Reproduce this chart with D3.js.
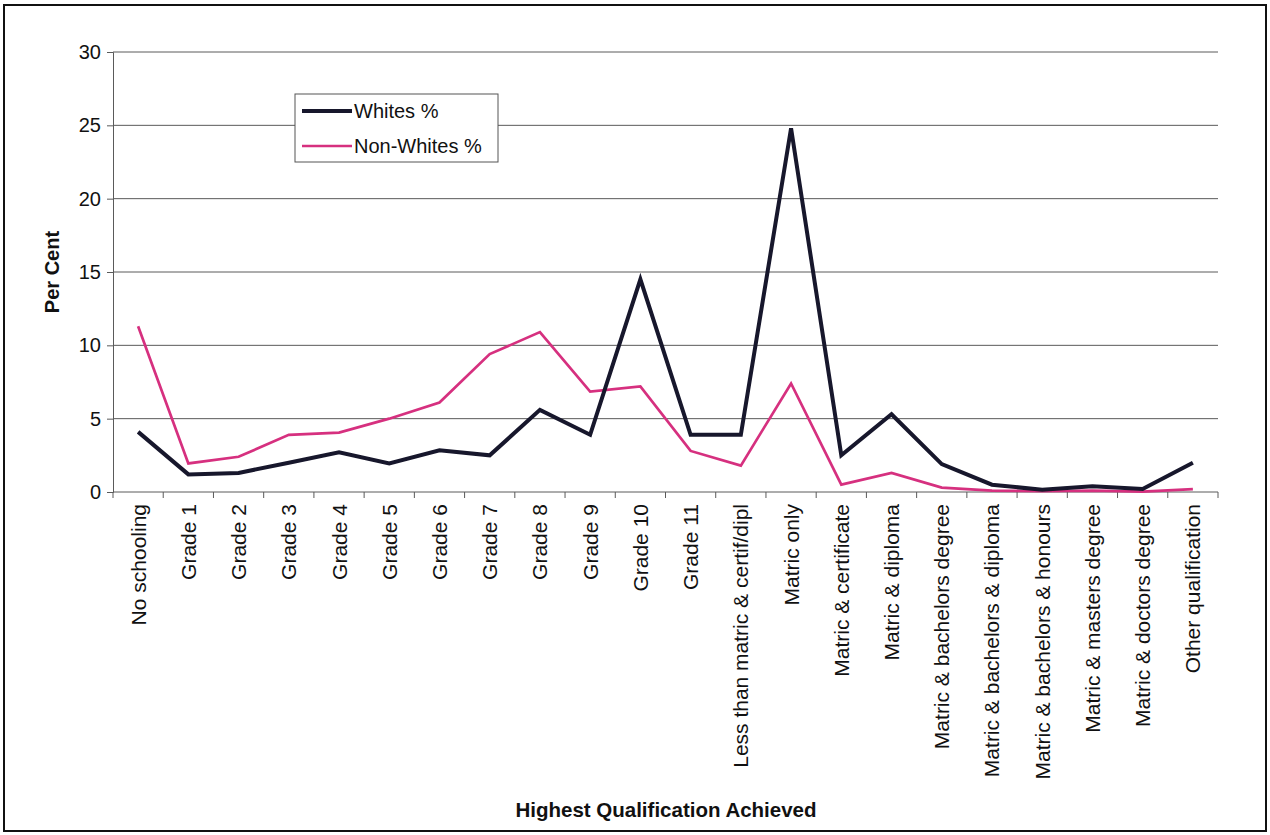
<!DOCTYPE html>
<html><head><meta charset="utf-8">
<script src="https://cdn.jsdelivr.net/npm/d3@7"></script>
<style>
html,body{margin:0;padding:0;background:#fff;}
svg{display:block;font-family:"Liberation Sans",Arial,sans-serif;}
</style></head>
<body><svg id="chart" width="1270" height="835"></svg>
<script>
const categories = ["No schooling","Grade 1","Grade 2","Grade 3","Grade 4","Grade 5","Grade 6","Grade 7","Grade 8","Grade 9","Grade 10","Grade 11","Less than matric & certif/dipl","Matric only","Matric & certificate","Matric & diploma","Matric & bachelors degree","Matric & bachelors & diploma","Matric & bachelors & honours","Matric & masters degree","Matric & doctors degree","Other qualification"];
const whites = [4.1,1.2,1.3,2.0,2.7,1.95,2.85,2.5,5.6,3.9,14.5,3.9,3.9,24.8,2.5,5.3,1.9,0.5,0.15,0.4,0.2,2.0];
const nonWhites = [11.3,1.95,2.4,3.9,4.05,5.0,6.1,9.4,10.9,6.85,7.2,2.8,1.8,7.4,0.5,1.3,0.3,0.1,0.05,0.1,0.03,0.2];
const yTicks = [0,5,10,15,20,25,30];
const seriesNames = ["Whites %","Non-Whites %"];
const seriesColors = ["#17172c","#d6307f"];

(function(){
const svg = d3.select("#chart");
svg.append("rect").attr("x",4).attr("y",5).attr("width",1262).attr("height",826)
  .attr("fill","#fff").attr("stroke","#111").attr("stroke-width",2);

const pL=113, pR=1218, pT=52, pB=492;
const x = d3.scaleBand().domain(categories).range([pL,pR]);
const y = d3.scaleLinear().domain([0,30]).range([pB,pT]);

svg.append("g").selectAll("line").data(yTicks.filter(d=>d>0)).join("line")
  .attr("x1",pL).attr("x2",pR).attr("y1",d=>y(d)).attr("y2",d=>y(d))
  .attr("stroke","#5a5a5a").attr("stroke-width",1);

const yAxis = svg.append("g").attr("transform",`translate(${pL},0)`)
  .call(d3.axisLeft(y).tickValues(yTicks).tickSize(6).tickPadding(6));
yAxis.select(".domain").attr("stroke","#5a5a5a");
yAxis.selectAll(".tick line").attr("stroke","#5a5a5a");
yAxis.selectAll("text").attr("font-size",20).attr("fill","#111").attr("font-family","Liberation Sans, Arial, sans-serif");

const xg = svg.append("g").attr("transform",`translate(0,${pB})`);
xg.append("line").attr("x1",pL).attr("x2",pR).attr("stroke","#5a5a5a");
const bounds = d3.range(categories.length+1).map(i=>pL+i*x.bandwidth());
xg.selectAll("line.tk").data(bounds).join("line").attr("class","tk")
  .attr("x1",d=>d).attr("x2",d=>d).attr("y1",0).attr("y2",6).attr("stroke","#5a5a5a");
xg.selectAll("text").data(categories).join("text")
  .attr("transform",d=>`translate(${x(d)+x.bandwidth()/2+7.5},12) rotate(-90)`)
  .attr("text-anchor","end").attr("font-size",21).attr("fill","#111").text(d=>d);

const line = d3.line().x((d,i)=>x(categories[i])+x.bandwidth()/2).y(d=>y(d));
svg.append("path").datum(nonWhites).attr("d",line).attr("fill","none")
  .attr("stroke",seriesColors[1]).attr("stroke-width",2.7).attr("stroke-linejoin","miter");
svg.append("path").datum(whites).attr("d",line).attr("fill","none")
  .attr("stroke",seriesColors[0]).attr("stroke-width",4).attr("stroke-linejoin","miter");

svg.append("text").attr("transform","translate(59,272) rotate(-90)").attr("text-anchor","middle")
  .attr("font-size",20).attr("font-weight","bold").attr("fill","#111").text("Per Cent");
svg.append("text").attr("x",666).attr("y",817).attr("text-anchor","middle")
  .attr("font-size",20.5).attr("font-weight","bold").attr("fill","#111").text("Highest Qualification Achieved");

const lg = svg.append("g");
lg.append("rect").attr("x",295).attr("y",94).attr("width",203).attr("height",68)
  .attr("fill","#fff").attr("stroke","#555").attr("stroke-width",1);
seriesNames.forEach((n,i)=>{
  const yy = 111 + i*35;
  lg.append("line").attr("x1",302).attr("x2",352).attr("y1",yy).attr("y2",yy)
    .attr("stroke",seriesColors[i]).attr("stroke-width",i===0?4:2.7);
  lg.append("text").attr("x",354).attr("y",yy+7).attr("font-size",20).attr("fill","#111").text(n);
});
})();
</script></body></html>
